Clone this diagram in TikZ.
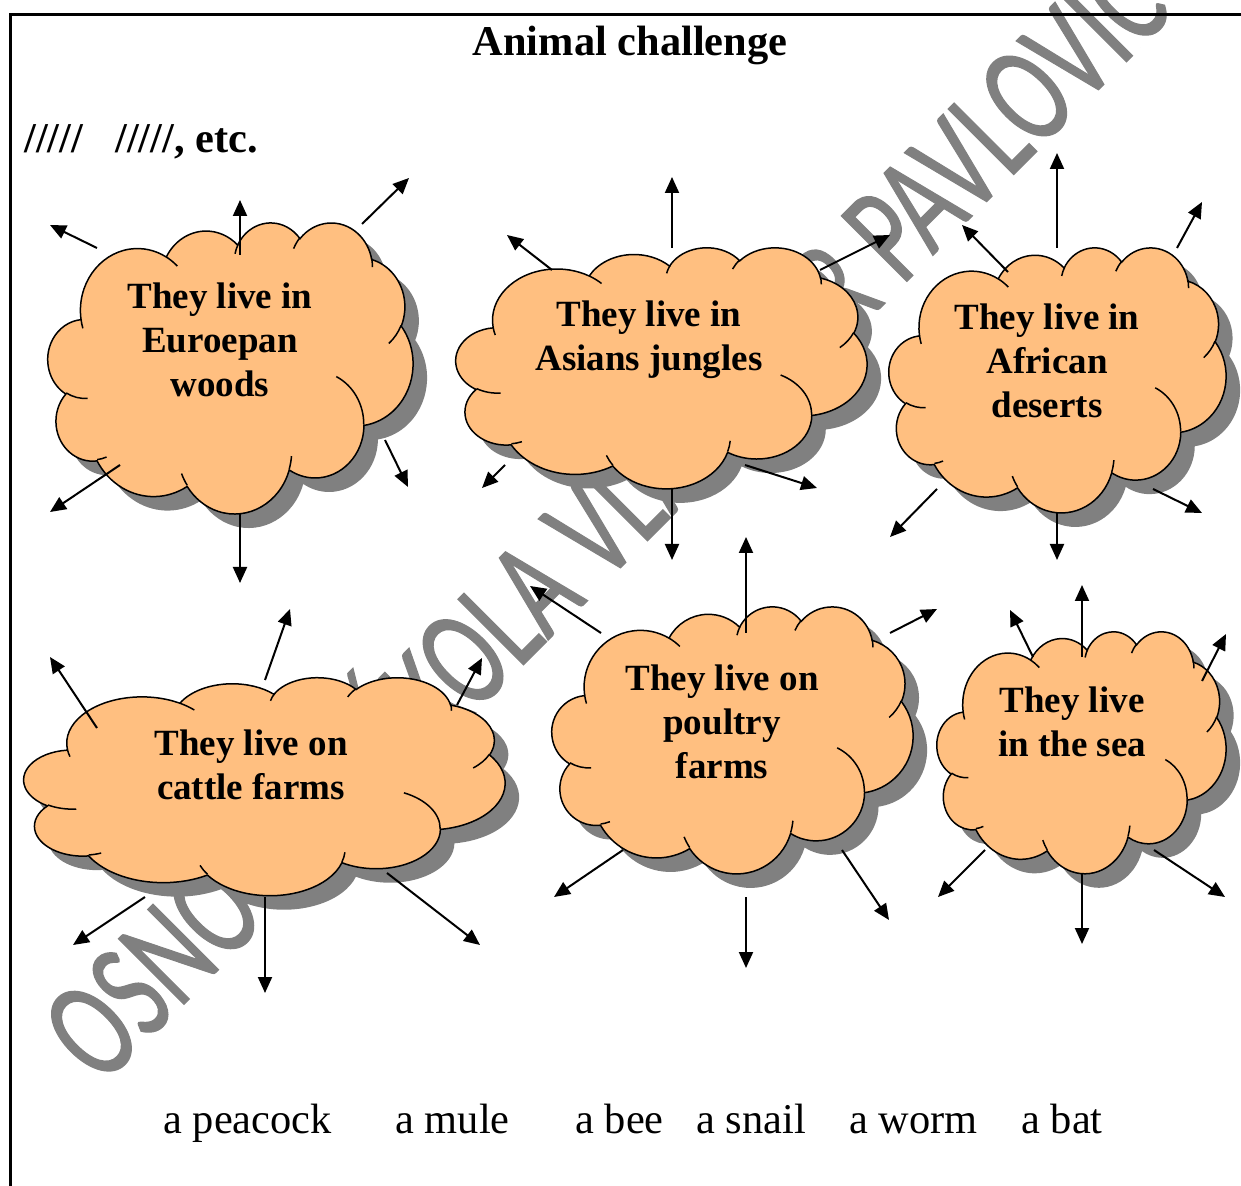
\documentclass[tikz,border=0pt]{standalone}
\usepackage{tikz}
\usepackage{fontspec}
\setmainfont{Liberation Serif}
\newfontfamily\wmfont[FakeBold=1]{Carlito}
\usetikzlibrary{arrows.meta}
\definecolor{cloudfill}{RGB}{255,191,128}
\definecolor{shadowgray}{RGB}{128,128,128}
\definecolor{wmgray}{RGB}{128,128,128}

% --- Office "cloud" preset geometry (units: 1/10 of 43200 frame) ---
\def\cpath{}
\newcommand\oarc[4]{%
  \pgfmathsetmacro\oaA{atan2((#1)*sin(#3),(#2)*cos(#3))}%
  \pgfmathsetmacro\oaB{atan2((#1)*sin(#3+#4),(#2)*cos(#3+#4))}%
  \pgfmathsetmacro\oaD{\oaB-\oaA}%
  \pgfmathsetmacro\oaD{\oaD+360*(\oaD<0)}%
  \xdef\cpath{\cpath\space arc[start angle=\oaA,delta angle=\oaD,x radius=#1,y radius=#2]}}
\newcommand\omove[2]{\xdef\cpath{\cpath\space(#1,#2)}}

\omove{390}{1437}
\oarc{675.3}{919.0}{-190.48748}{123.78053}
\oarc{533.3}{726.7}{-144.10238}{89.94523}
\oarc{436.5}{594.5}{-145.80792}{99.72302}
\oarc{485.7}{659.5}{-130.98607}{117.24173}
\oarc{533.3}{727.3}{-78.70888}{109.02692}
\oarc{677.5}{922.0}{-46.26725}{130.269}
\oarc{578.5}{786.7}{0.62502}{114.03333}
\oarc{675.2}{921.5}{22.4516}{115.17255}
\oarc{772.0}{1054.3}{66.24263}{75.71102}
\oarc{436.0}{591.8}{-274.94208}{146.73557}
\oarc{434.5}{594.5}{-246.8285}{152.51885}
\xdef\cpath{\cpath\space -- cycle}
\let\cloudmain\cpath

\gdef\cpath{}
\omove{469.3}{2617.7}\oarc{434.5}{594.5}{86.742}{26.4295}
\omove{692.8}{3489.9}\oarc{436.0}{591.8}{73.61047}{11.44747}
\omove{1647.8}{3909.0}\oarc{675.2}{921.5}{137.62415}{14.0811}
\omove{2882.7}{3475.1}\oarc{675.2}{921.5}{6.45327}{15.99835}
\omove{3412.9}{2295.4}\oarc{578.5}{786.7}{-70.29235}{70.91737}
\omove{4179.8}{1535.4}\oarc{533.3}{727.3}{30.31803}{27.7515}
\omove{3832.4}{542.6}\oarc{485.7}{659.5}{-13.74433}{14.8589}
\omove{2907.8}{395.2}\oarc{485.7}{659.5}{-149.18145}{18.19537}
\omove{2214.1}{472.0}\oarc{436.5}{594.5}{-163.49427}{17.68635}
\omove{1400.0}{519.2}\oarc{675.3}{919.0}{-66.70695}{12.31935}
\omove{412.7}{1578.9}\oarc{675.3}{919.0}{157.65435}{11.85817}
\let\cloudinner\cpath

\newcommand\cloudat[4]{% x0 y0 W H (px)
  \begin{scope}[shift={(#1+14,#2+14)},xscale=#3/4320,yscale=#4/4320]
    \fill[shadowgray] \cloudmain;
  \end{scope}
  \begin{scope}[shift={(#1,#2)},xscale=#3/4320,yscale=#4/4320]
    \filldraw[fill=cloudfill,draw=black,line width=0.75pt] \cloudmain;
    \draw[black,line width=0.75pt] \cloudinner;
  \end{scope}}

\tikzset{
  cloudtext/.style={anchor=base,inner sep=0pt,font=\fontsize{18.5pt}{22pt}\selectfont\bfseries},
  bigbold/.style={inner sep=0pt,font=\fontsize{21.2pt}{25pt}\selectfont\bfseries},
  word/.style={anchor=base west,inner sep=0pt,font=\fontsize{21.2pt}{25pt}\selectfont},
  arrow/.style={line width=1pt,-{Triangle[length=8pt,width=7pt]}},
  frameline/.style={line width=1.25pt},
  wm/.style={anchor=base west,inner sep=0pt,text=wmgray,
    font=\wmfont\fontsize{72pt}{74pt}\selectfont,rotate=45,xscale=0.68}
}

\begin{document}
\begin{tikzpicture}[x=1pt,y=1pt,xscale=0.5,yscale=-0.5]
\useasboundingbox (0,0) rectangle (1241,1186);

% watermark
\node[wm] (wm) at (101,1087) {OSNOVNA ŠKOLA VLADIMIR PAVLOVIĆ};

% frame
\draw[frameline] (1241,14.5) -- (10.5,14.5) -- (10.5,1186);

% clouds
\cloudat{48}{222}{365}{291}
\cloudat{456}{247}{411}{241}
\cloudat{889}{247}{337}{265}
\cloudat{24}{677}{481}{218}
\cloudat{552}{606}{361}{267}
\cloudat{937}{631}{289}{242}

% arrows
\foreach \i/\xa/\ya/\xb/\yb in {
  1/97/248/50/225, 2/240/255/240/200, 3/362/224/409/178,
  4/385/440/408/487, 5/120/465/50/512, 6/240/513/240/583,
  7/552/270/507/235, 8/672/248/672/177, 9/820/270/890/235,
  10/505/465/482/488, 11/745/465/817/488, 12/672/488/672/560,
  13/1008/272/962/225, 14/1057/248/1057/153, 15/1177/248/1202/202,
  16/937/489/890/537, 17/1153/489/1202/513, 18/1057/512/1057/560,
  19/97/728/50/657, 20/265/680/290/609, 21/457/705/482/658,
  22/145/897/73/945, 23/265/897/265/993, 24/387/873/480/945,
  25/601/633/530/586, 26/746/633/746/537, 27/890/633/937/609,
  28/623/850/554/897, 29/842/850/889/920, 30/746/897/746/968,
  31/1033/657/1010/610, 32/1082/657/1082/585, 33/1202/681/1226/634,
  34/985/850/938/897, 35/1154/850/1225/897, 36/1082/873/1082/944}
{
  \coordinate (s\i) at (\xa,\ya);
  \coordinate (e\i) at (\xb,\yb);
  \draw[arrow] (s\i) -- (e\i);
}

% cloud texts
\node[cloudtext] (c1) at (220,309) {\begin{tabular}[t]{@{}c@{}}They live in\\Euroepan\\woods\end{tabular}};
\node[cloudtext] (c2) at (649,327) {\begin{tabular}[t]{@{}c@{}}They live in\\Asians jungles\end{tabular}};
\node[cloudtext] (c3) at (1047,330) {\begin{tabular}[t]{@{}c@{}}They live in\\African\\deserts\end{tabular}};
\node[cloudtext] (c4) at (251,755) {\begin{tabular}[t]{@{}c@{}}They live on\\cattle farms\end{tabular}};
\node[cloudtext] (c5) at (722,690) {\begin{tabular}[t]{@{}c@{}}They live on\\poultry\\farms\end{tabular}};
\node[cloudtext] (c6) at (1072,712) {\begin{tabular}[t]{@{}c@{}}They live\\in the sea\end{tabular}};

% headings
\node[bigbold,anchor=base] (title) at (630,56) {Animal challenge};
\node[bigbold,anchor=base west] (tally) at (24,153) {/////\hspace{16pt}/////, etc.};

% word list
\node[word] (w1) at (163,1133) {a peacock};
\node[word] (w2) at (395,1133) {a mule};
\node[word] (w3) at (575,1133) {a bee};
\node[word] (w4) at (696,1133) {a snail};
\node[word] (w5) at (849,1133) {a worm};
\node[word] (w6) at (1021,1133) {a bat};
\end{tikzpicture}
\end{document}
